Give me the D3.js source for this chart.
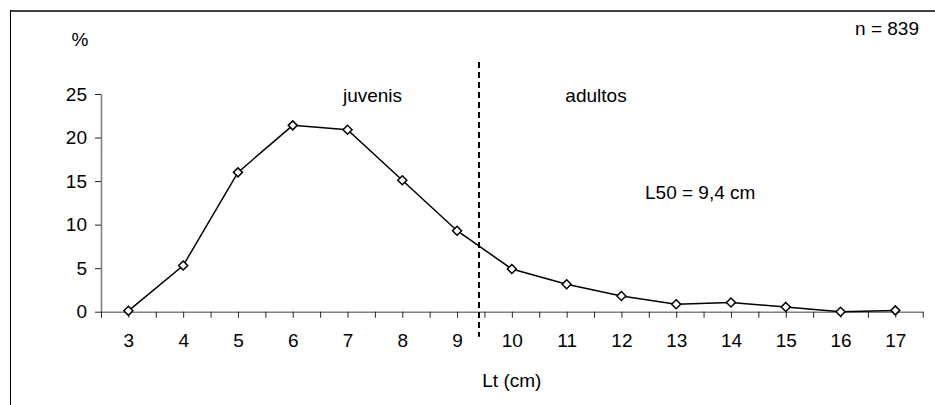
<!DOCTYPE html>
<html>
<head>
<meta charset="utf-8">
<script src="https://cdn.jsdelivr.net/npm/d3@7"></script>
<style>
  html, body { margin: 0; padding: 0; background: #fff; }
  svg { display: block; font-family: "Liberation Sans", Arial, sans-serif; }
</style>
</head>
<body>
<svg id="chart" width="935" height="405"></svg>
<script>
// Length classes (Lt, cm) and share of individuals (%)
const lengths = [3, 4, 5, 6, 7, 8, 9, 10, 11, 12, 13, 14, 15, 16, 17];
const percents = [0.1, 5.3, 16.0, 21.4, 20.9, 15.1, 9.3, 4.9, 3.15, 1.8, 0.85, 1.05, 0.55, 0.0, 0.15];
const yTicks = [0, 5, 10, 15, 20, 25];
const l50 = 9.4;
const sampleSize = 839;

const svg = d3.select("#chart");
const W = 935, H = 405;
const plot = { left: 101, right: 922.7, top: 94, bottom: 311.7 };

// Linear length scale; each class sits in the middle of a unit-wide slot
const x = d3.scaleLinear()
  .domain([lengths[0] - 0.5, lengths[lengths.length - 1] + 0.5])
  .range([plot.left, plot.right]);
const y = d3.scaleLinear().domain([0, 25]).range([plot.bottom, plot.top]);

// Outer frame: top rule and left rule
svg.append("line")
  .attr("x1", 10).attr("x2", W).attr("y1", 11).attr("y2", 11)
  .attr("stroke", "#404040").attr("stroke-width", 2);
svg.append("line")
  .attr("x1", 10.5).attr("x2", 10.5).attr("y1", 10).attr("y2", H)
  .attr("stroke", "#000").attr("stroke-width", 1);

const fontSize = 19;

// Y axis
const yAxis = svg.append("g")
  .attr("transform", `translate(${plot.left},0)`)
  .call(d3.axisLeft(y).tickValues(yTicks).tickSize(6).tickSizeOuter(0).tickPadding(8));

// X axis: ticks at every class centre and boundary, labels on centres
const xTickVals = d3.range(lengths[0] - 0.5, lengths[lengths.length - 1] + 0.51, 0.5);
const xAxis = svg.append("g")
  .attr("transform", `translate(0,${plot.bottom})`)
  .call(d3.axisBottom(x).tickValues(xTickVals).tickSize(6).tickSizeOuter(0).tickPadding(15.5)
    .tickFormat(d => Number.isInteger(d) ? String(d) : ""));

[yAxis, xAxis].forEach(g => {
  g.select(".domain").attr("stroke", "#808080").attr("stroke-width", 1.6);
  g.selectAll(".tick line").attr("stroke", "#222").attr("stroke-width", 1);
  g.selectAll(".tick text")
    .attr("font-size", fontSize)
    .attr("font-family", "'Liberation Sans', Arial, sans-serif")
    .attr("fill", "#000");
});

// Size at first maturity (L50) divider
svg.append("line")
  .attr("x1", x(l50)).attr("x2", x(l50))
  .attr("y1", y(25) - 32).attr("y2", plot.bottom + 25)
  .attr("stroke", "#000").attr("stroke-width", 2)
  .attr("stroke-dasharray", "6,4");

// Frequency polygon
const line = d3.line().x((d, i) => x(lengths[i])).y(d => y(d));
svg.append("path")
  .datum(percents)
  .attr("fill", "none")
  .attr("stroke", "#000")
  .attr("stroke-width", 1.5)
  .attr("d", line);

// Diamond markers
const r = 4.5;
const diamond = `M0,${-r}L${r},0L0,${r}L${-r},0Z`;
svg.selectAll(".pt")
  .data(percents)
  .join("path")
  .attr("class", "pt")
  .attr("d", diamond)
  .attr("transform", (d, i) => `translate(${x(lengths[i])},${y(d)})`)
  .attr("fill", "#fff")
  .attr("stroke", "#000")
  .attr("stroke-width", 1.5);

// Labels
const label = (txt, px, py, anchor) => svg.append("text")
  .attr("x", px).attr("y", py)
  .attr("text-anchor", anchor)
  .attr("font-size", fontSize)
  .attr("fill", "#000")
  .text(txt);

label("%", 80, 46, "middle");
label(`n = ${sampleSize}`, 919, 35, "end");
label("juvenis", 372.5, 102, "middle");
label("adultos", 596, 102, "middle");
label(`L50 = ${String(l50).replace(".", ",")} cm`, 645, 199, "start");
label("Lt (cm)", (plot.left + plot.right) / 2, 387, "middle");
</script>
</body>
</html>
